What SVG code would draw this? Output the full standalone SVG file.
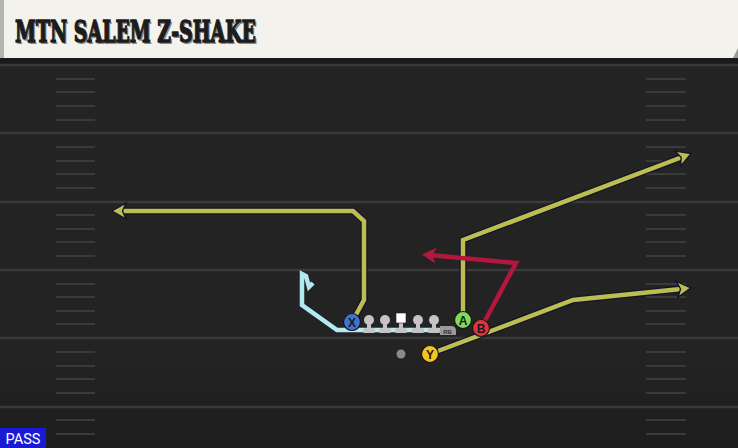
<svg xmlns="http://www.w3.org/2000/svg" width="738" height="448" viewBox="0 0 738 448">
<style>
.yl{stroke:#3a3a3a;stroke-width:2.5}
.hs{stroke:#3a3a3a;stroke-width:2}
.rt{fill:none;stroke-linejoin:miter;stroke-linecap:butt}
.ol{stroke:#15152a;stroke-width:7}
.ye{stroke:#bdbd52;stroke-width:4.5}
.re{stroke:#b3173c;stroke-width:4.5}
.cy{stroke:#b2e9f3;stroke-width:4.5}
.pl{stroke:#161616;stroke-width:1.2}
.lt{font-family:"Liberation Sans",Arial,sans-serif;font-weight:bold;font-size:12px;fill:#1a1a1a;text-anchor:middle}
.ln{fill:#c4c4c4}
.tt{font-family:"DejaVu Serif",serif;font-weight:bold;font-size:29px}
.ahy{fill:#bdbd52;stroke:#15152a;stroke-width:1.4;stroke-linejoin:miter}
.ahr{fill:#b3173c}
</style>
<defs>
<path id="ah" d="M1,0 L-13,-8 L-9.5,0 L-13,8 Z"/>
<linearGradient id="fb" x1="0" y1="0" x2="0" y2="1">
<stop offset="0" stop-color="#242424"/>
<stop offset="0.8" stop-color="#232323"/>
<stop offset="1" stop-color="#1d1d1d"/>
</linearGradient>
</defs>
<g id="field">
<rect x="0" y="0" width="738" height="448" fill="url(#fb)"/>
<rect x="0" y="58" width="738" height="6" fill="#1a1a1a"/>
<line class="yl" x1="0" y1="65" x2="738" y2="65"/>
<line class="yl" x1="0" y1="133" x2="738" y2="133"/>
<line class="yl" x1="0" y1="202" x2="738" y2="202"/>
<line class="yl" x1="0" y1="270" x2="738" y2="270"/>
<line class="yl" x1="0" y1="338" x2="738" y2="338"/>
<line class="yl" x1="0" y1="407" x2="738" y2="407"/>
<g id="hashes">
<path class="hs" d="M56,79H95M56,92H95M56,106H95M56,120H95M56,147H95M56,161H95M56,174H95M56,188H95M56,215H95M56,229H95M56,242H95M56,256H95M56,284H95M56,297H95M56,311H95M56,324H95M56,352H95M56,366H95M56,379H95M56,393H95M56,420H95M56,434H95"/>
<path class="hs" d="M646,79H686M646,92H686M646,106H686M646,120H686M646,147H686M646,161H686M646,174H686M646,188H686M646,215H686M646,229H686M646,242H686M646,256H686M646,284H686M646,297H686M646,311H686M646,324H686M646,352H686M646,366H686M646,379H686M646,393H686M646,420H686M646,434H686"/>
</g>
</g>
<g id="header">
<rect x="0" y="0" width="738" height="58" fill="#f4f2ec"/>
<rect x="0" y="0" width="4" height="58" fill="#b5b5b0"/>
<path d="M738,48 L733,58 L738,58 Z" fill="#9a9a96"/>
<text class="tt" x="16.5" y="43.5" textLength="241" lengthAdjust="spacingAndGlyphs" fill="#888">MTN SALEM Z-SHAKE</text>
<text class="tt" x="15" y="42" textLength="241" lengthAdjust="spacingAndGlyphs" fill="#1c1c1c" stroke="#1c1c1c" stroke-width="1.4" stroke-linejoin="round">MTN SALEM Z-SHAKE</text>
</g>
<g id="connectors">
<path class="rt cy" d="M447,330 L337,330 L302,305 L302,274 L306,276 L309,287 L313,283"/>
<path class="rt ol" d="M352,322 L364,300 L364,221 L353,211 L122,211"/>
<path class="rt ye" d="M352,322 L364,300 L364,221 L353,211 L122,211"/>
<use href="#ah" class="ahy" transform="translate(113,211) rotate(180)"/>
<path class="rt ol" d="M463,320 L463,240 L681,157.5"/>
<path class="rt ye" d="M463,320 L463,240 L681,157.5"/>
<use href="#ah" class="ahy" transform="translate(690,154) rotate(-20.75)"/>
<path class="rt ol" d="M430,354 L573,300 L681,289"/>
<path class="rt ye" d="M430,354 L573,300 L681,289"/>
<use href="#ah" class="ahy" transform="translate(690,288) rotate(-5.86)"/>
<path class="rt re" d="M481,328 L516,263 L432,255.3"/>
<use href="#ah" class="ahr" transform="translate(423,254.5) rotate(184.9)"/>
</g>
<g id="line">
<g class="ln">
<circle cx="369" cy="320" r="5"/><rect x="367" y="320" width="4" height="12"/><rect x="363" y="328" width="12" height="5" rx="1.5"/>
<circle cx="385" cy="320" r="5"/><rect x="383" y="320" width="4" height="12"/><rect x="379" y="328" width="12" height="5" rx="1.5"/>
<rect x="399" y="320" width="4" height="12"/><rect x="395" y="328" width="12" height="5" rx="1.5"/>
<circle cx="418" cy="320" r="5"/><rect x="416" y="320" width="4" height="12"/><rect x="412" y="328" width="12" height="5" rx="1.5"/>
<circle cx="434" cy="320" r="5"/><rect x="432" y="320" width="4" height="12"/><rect x="428" y="328" width="12" height="5" rx="1.5"/>
</g>
<rect x="396" y="313" width="10" height="10" fill="#ffffff" stroke="#222" stroke-width="0.6"/>
</g>
<g id="RB">
<path d="M440,326 H451 Q456,326 456,331 V335 H440 Z" fill="#9a9a9a"/>
<text x="447.5" y="333.5" font-family="'Liberation Sans',Arial,sans-serif" font-size="6" font-weight="bold" fill="#333" text-anchor="middle">RB</text>
</g>
<g id="QB"><circle cx="401" cy="354" r="4.5" fill="#8a8a8a"/></g>
<g id="X"><circle class="pl" cx="352" cy="322" r="8.5" fill="#3f72d6"/><text class="lt" x="352" y="326.5">X</text></g>
<g id="A"><circle class="pl" cx="463" cy="320" r="8.5" fill="#7fdc58"/><text class="lt" x="463" y="324.5">A</text></g>
<g id="B"><circle class="pl" cx="481" cy="328" r="8.5" fill="#e2323f"/><text class="lt" x="481" y="332.5">B</text></g>
<g id="Y"><circle class="pl" cx="430" cy="354" r="8.5" fill="#f2c51f"/><text class="lt" x="430" y="358.5">Y</text></g>
<g id="pass">
<rect x="0" y="428" width="46" height="20" fill="#1a1ad6"/>
<text x="23" y="444" font-family="Roboto,'Liberation Sans',sans-serif" font-size="14.5" fill="#ffffff" text-anchor="middle">PASS</text>
</g>
</svg>
